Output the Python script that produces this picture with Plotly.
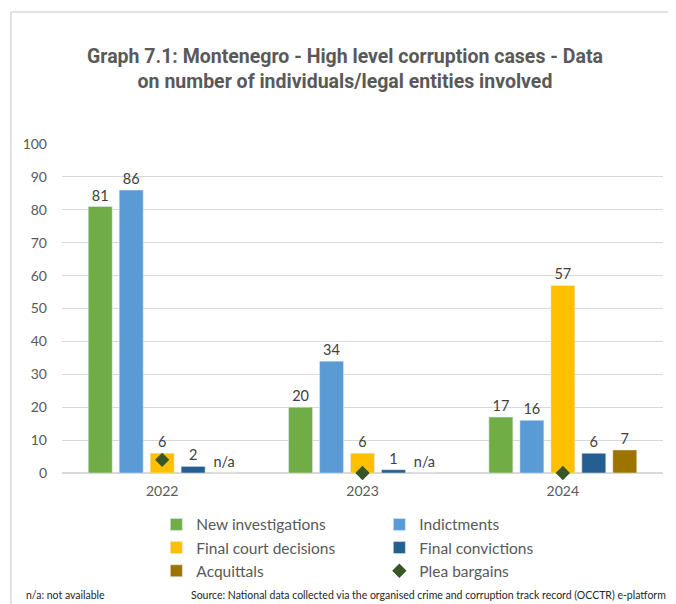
import plotly.graph_objects as go

# %% data
years = ['2022', '2023', '2024']
new_investigations = [81, 20, 17]
indictments = [86, 34, 16]
final_court_decisions = [6, 6, 57]
final_convictions = [2, 1, 6]
acquittals = [0, 0, 7]          # 0 = not available, labelled n/a
acquittals_text = ['n/a', 'n/a', '7']
plea_bargains = [4, 0, 0]

# %% colours / fonts
grey_txt = '#595959'
lbl_font = dict(family='Lato', size=14.5, color='#404040')

bars = [
    ('New investigations', new_investigations, '#70AD47', None),
    ('Indictments', indictments, '#5B9BD5', None),
    ('Final court decisions', final_court_decisions, '#FFC000', None),
    ('Final convictions', final_convictions, '#255E91', None),
    ('Acquittals', acquittals, '#9E7400', acquittals_text),
]

fig = go.Figure()
for name, vals, col, txt in bars:
    fig.add_trace(go.Bar(
        x=years, y=vals, name=name,
        marker=dict(color=col),
        text=txt if txt else [str(v) for v in vals],
        textposition='outside', textfont=lbl_font,
        cliponaxis=False,
    ))

fig.add_trace(go.Scatter(
    x=years, y=plea_bargains, name='Plea bargains', mode='markers',
    marker=dict(symbol='diamond', size=11, color='#375623'),
    cliponaxis=False,
))

# frame lines (top + left) like the original chart box
fig.add_shape(type='line', xref='paper', yref='paper', x0=-0.085, x1=1.05, y0=1.401, y1=1.401,
              line=dict(color='#D9D9D9', width=1.5))
fig.add_shape(type='line', xref='paper', yref='paper', x0=-0.085, x1=-0.085, y0=1.401, y1=-0.42,
              line=dict(color='#D9D9D9', width=1.5))

fig.add_annotation(text='n/a: not available', xref='paper', yref='paper', x=-0.0632, y=-0.37,
                   xanchor='left', yanchor='middle', showarrow=False,
                   font=dict(family='Lato', size=10.5, color='#262626'))
fig.add_annotation(text='Source: National data collected via the organised crime and corruption track record (OCCTR) e-platform',
                   xref='paper', yref='paper', x=1.008, y=-0.37,
                   xanchor='right', yanchor='middle', showarrow=False,
                   font=dict(family='Lato', size=10.5, color='#262626'))

# page body has an 8px margin, so the figure is 8px smaller than the window
fig.update_layout(
    width=668, height=596,
    margin=dict(l=54, r=13, t=136, b=131),
    paper_bgcolor='white', plot_bgcolor='white',
    barmode='group', bargap=0.227, bargroupgap=0.226,
    title=dict(text='Graph 7.1: Montenegro - High level corruption cases - Data<br>on number of individuals/legal entities involved',
               x=0.5045, xanchor='center', y=0.908, yanchor='top',
               font=dict(family='Roboto', size=19.5, color=grey_txt, weight='bold')),
    xaxis=dict(showgrid=False, showline=False, ticks='', ticklabelstandoff=8,
               tickfont=dict(family='Lato', size=14, color=grey_txt)),
    yaxis=dict(range=[0, 100], dtick=10, showgrid=True, gridcolor='#D9D9D9', gridwidth=1,
               zeroline=True, zerolinecolor='#D9D9D9', zerolinewidth=1.5,
               showline=False, ticks='', ticklabelstandoff=14,
               tickfont=dict(family='Lato', size=14, color=grey_txt)),
    legend=dict(orientation='h', x=0.157, xanchor='left', y=-0.106, yanchor='top',
                entrywidth=178, entrywidthmode='pixels',
                font=dict(family='Lato', size=15.5, color=grey_txt)),
    showlegend=True,
)

fig.write_html("out.html")
